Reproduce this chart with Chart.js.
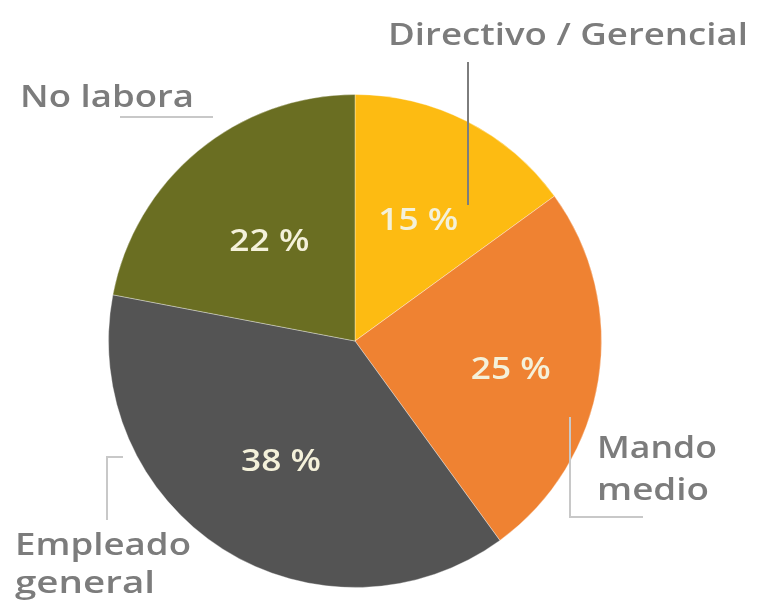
<!DOCTYPE html>
<html>
<head>
<meta charset="utf-8">
<script src="https://cdn.jsdelivr.net/npm/chart.js@4"></script>
<style>
html,body{margin:0;padding:0;background:#fff;}
#wrap{width:760px;height:606px;position:relative;}
</style>
</head>
<body>
<div id="wrap"><canvas id="c" width="760" height="606"></canvas></div>
<script>
const categories = ["Directivo / Gerencial", "Mando medio", "Empleado general", "No labora"];
const values = [15, 25, 38, 22];
const colors = ["#FDBB12", "#EF8232", "#545454", "#6A6E22"];

const FONT = '"Open Sans", "Liberation Sans", sans-serif';

function fitText(ctx, text, x, y, targetW, align) {
  const w = ctx.measureText(text).width;
  const sx = targetW / w;
  ctx.save();
  ctx.translate(x, y);
  ctx.scale(sx, 1);
  ctx.textAlign = align || 'left';
  ctx.fillText(text, 0, 0);
  ctx.restore();
}

const calloutPlugin = {
  id: 'callouts',
  afterDatasetsDraw(chart) {
    const ctx = chart.ctx;
    const meta = chart.getDatasetMeta(0);
    const arc0 = meta.data[0];
    const cx = arc0.x, cy = arc0.y, R = arc0.outerRadius;
    // percentage labels inside slices
    const radFrac = [0.565, 0.64, 0.56, 0.545];
    ctx.save();
    ctx.fillStyle = '#F4F1DA';
    ctx.font = '600 30px ' + FONT;
    ctx.textBaseline = 'middle';
    meta.data.forEach((arc, i) => {
      const mid = (arc.startAngle + arc.endAngle) / 2;
      const r = R * radFrac[i];
      fitText(ctx, values[i] + ' %', cx + Math.cos(mid) * r, cy + Math.sin(mid) * r + 5, 80, 'center');
    });
    ctx.restore();

    // leader lines
    ctx.save();
    ctx.lineWidth = 2;
    ctx.strokeStyle = '#7d7d7d';
    ctx.beginPath();
    ctx.moveTo(cx + 113, cy - 279); ctx.lineTo(cx + 113, cy - 136);
    ctx.stroke();
    ctx.strokeStyle = '#c8c8c8';
    ctx.beginPath();
    ctx.moveTo(cx - 235, cy - 224); ctx.lineTo(cx - 142, cy - 224);
    ctx.stroke();
    ctx.beginPath();
    ctx.moveTo(cx + 215, cy + 76); ctx.lineTo(cx + 215, cy + 176); ctx.lineTo(cx + 288, cy + 176);
    ctx.stroke();
    ctx.beginPath();
    ctx.moveTo(cx - 232, cy + 116); ctx.lineTo(cx - 248, cy + 116); ctx.lineTo(cx - 248, cy + 179);
    ctx.stroke();
    ctx.restore();

    // category labels
    ctx.save();
    ctx.fillStyle = '#7c7c7c';
    ctx.font = '600 31px ' + FONT;
    ctx.textBaseline = 'alphabetic';
    fitText(ctx, categories[0], cx + 33, cy - 296, 360);
    fitText(ctx, categories[3], cx - 335, cy - 234, 174);
    fitText(ctx, 'Mando', cx + 242, cy + 117, 120);
    fitText(ctx, 'medio', cx + 242, cy + 159, 112);
    fitText(ctx, 'Empleado', cx - 340, cy + 214, 176);
    fitText(ctx, 'general', cx - 340, cy + 252, 140);
    ctx.restore();
  }
};

new Chart(document.getElementById('c'), {
  type: 'pie',
  data: {
    labels: categories,
    datasets: [{
      data: values,
      backgroundColor: colors,
      borderColor: 'rgba(255,255,255,0.35)',
      borderWidth: 1
    }]
  },
  options: {
    responsive: false,
    animation: false,
    layout: { padding: { left: 108, right: 158, top: 94, bottom: 18 } },
    plugins: { legend: { display: false }, tooltip: { enabled: false } }
  },
  plugins: [calloutPlugin]
});
</script>
</body>
</html>
